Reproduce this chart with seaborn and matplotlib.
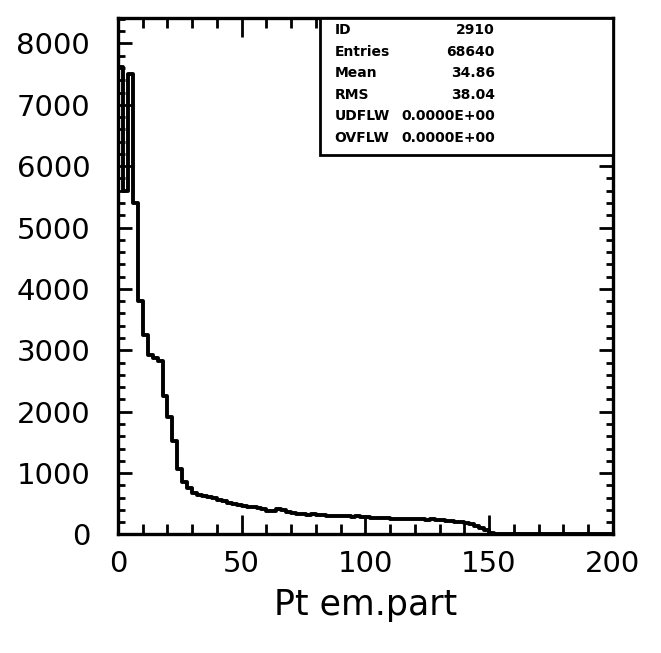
import numpy as np
import pandas as pd
import matplotlib
matplotlib.use("Agg")
import matplotlib.pyplot as plt
import seaborn as sns
from matplotlib.ticker import MultipleLocator, FixedLocator
from matplotlib.patches import Rectangle

# ---------------- data ----------------
bin_edges = list(range(0, 202, 2))
counts = [
    7620, 5600, 7500, 5400, 3800, 3250, 2920, 2880, 2830, 2250,
    1920, 1530, 1070, 850, 760, 680, 650, 630, 610, 590,
    560, 540, 520, 500, 480, 465, 455, 440, 425, 410,
    390, 385, 420, 400, 370, 350, 340, 330, 320, 330,
    325, 315, 305, 300, 305, 300, 295, 290, 295, 290,
    280, 270, 275, 265, 270, 260, 255, 260, 250, 255,
    245, 250, 240, 245, 235, 230, 225, 215, 210, 200,
    185, 165, 140, 110, 75, 25, 0, 0, 0, 0,
    0, 0, 0, 0, 0, 0, 0, 0, 0, 0,
    0, 0, 0, 0, 0, 0, 0, 0, 0, 0,
]
stats_labels = ["ID", "Entries", "Mean", "RMS", "UDFLW", "OVFLW"]
stats_values = ["2910", "68640", "34.86", "38.04", "0.0000E+00", "0.0000E+00"]
x_ticks = [0, 50, 100, 150, 200]
y_ticks = [0, 1000, 2000, 3000, 4000, 5000, 6000, 7000, 8000]
x_label = "Pt em.part"

# ---------------- style ----------------
sns.set_theme(style="ticks")
plt.rcParams['font.family'] = ['DejaVu Sans']
plt.rcParams['text.color'] = 'black'
plt.rcParams['axes.labelcolor'] = 'black'
plt.rcParams['xtick.color'] = 'black'
plt.rcParams['ytick.color'] = 'black'

fig = plt.figure(figsize=(6.61, 6.53), dpi=100)
fig.patch.set_facecolor("white")
ax = fig.add_axes([0.1785, 0.1815, 0.7485, 0.7915])
ax.set_facecolor("white")

centers = [(a + b) / 2 for a, b in zip(bin_edges[:-1], bin_edges[1:])]
df = pd.DataFrame({"pt": centers, "n": counts})
sns.histplot(data=df, x="pt", weights="n", bins=bin_edges, element="step",
             fill=False, color="black", linewidth=2.8, ax=ax)

ax.set_xlim(0, 200)
ax.set_ylim(0, 8420)
ax.xaxis.set_major_locator(FixedLocator(x_ticks))
ax.xaxis.set_minor_locator(MultipleLocator(10))
ax.yaxis.set_major_locator(FixedLocator(y_ticks))
ax.yaxis.set_minor_locator(MultipleLocator(200))
ax.set_xticklabels([str(v) for v in x_ticks])
ax.set_yticklabels([str(v) for v in y_ticks])

for s in ax.spines.values():
    s.set_visible(True)
    s.set_linewidth(2.4)
    s.set_color("black")

ax.tick_params(axis="both", which="both", direction="in", top=True, right=True,
               width=2.0, color="black", labelcolor="black")
ax.tick_params(axis="x", which="major", length=14, labelsize=21, pad=11)
ax.tick_params(axis="x", which="minor", length=7)
ax.tick_params(axis="y", which="major", length=10, labelsize=21, pad=20)
ax.tick_params(axis="y", which="minor", length=5)

ax.set_ylabel("")
ax.set_xlabel(x_label, fontsize=25, color="black")
ax.xaxis.set_label_coords(0.5, -0.136)
ax.xaxis.label.set_va("center")

# ---------------- statistics box ----------------
box_left, box_bottom = 0.408, 0.735
ax.add_patch(Rectangle((box_left, box_bottom), 1 - box_left, 1 - box_bottom,
                       transform=ax.transAxes, facecolor="white",
                       edgecolor="black", linewidth=2.0, zorder=5, clip_on=False))
row_y = [0.977, 0.934, 0.892, 0.851, 0.809, 0.768]
for lab, val, yy in zip(stats_labels, stats_values, row_y):
    ax.text(0.438, yy, lab, transform=ax.transAxes, ha="left", va="center",
            fontsize=10, fontweight="bold", color="black", zorder=6)
    ax.text(0.762, yy, val, transform=ax.transAxes, ha="right", va="center",
            fontsize=10, fontweight="bold", color="black", zorder=6)

fig.savefig("out.png", dpi=100, facecolor="white")
